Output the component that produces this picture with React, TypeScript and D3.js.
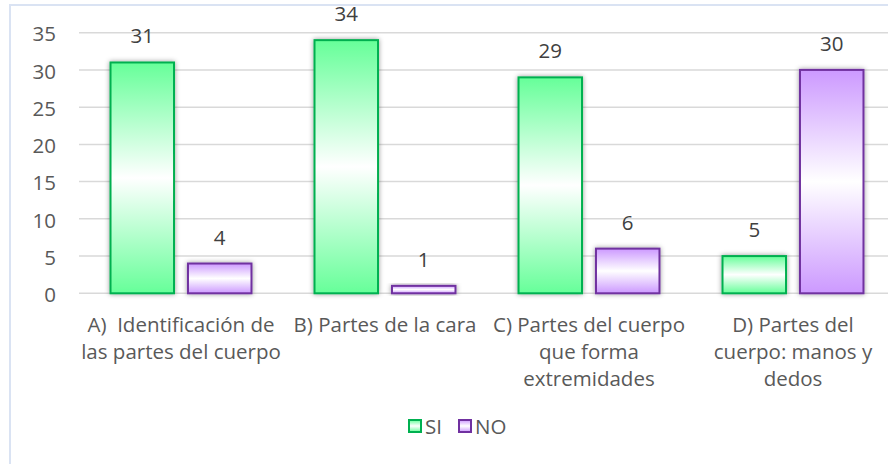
import React from "react";
import * as d3 from "d3";

const categories = [
  ["A)  Identificación de", "las partes del cuerpo"],
  ["B) Partes de la cara"],
  ["C) Partes del cuerpo", "que forma", "extremidades"],
  ["D) Partes del", "cuerpo: manos y", "dedos"],
];
const seriesNames = ["SI", "NO"];
const siValues = [31, 34, 29, 5];
const noValues = [4, 1, 6, 30];
const yTicks = [0, 5, 10, 15, 20, 25, 30, 35];

const W = 888;
const H = 464;
const FONT = "'Open Sans', sans-serif";
const TEXT = "#595959";
const FS = 20.5;

export default function App() {
  const x0 = d3
    .scaleBand<number>()
    .domain(categories.map((_, i) => i))
    .range([79, 895])
    .paddingInner(0.309)
    .paddingOuter(0.1545);
  const x1 = d3
    .scaleBand<string>()
    .domain(seriesNames)
    .range([0, x0.bandwidth()])
    .paddingInner(0.18);
  const y = d3.scaleLinear().domain([0, 35]).range([293.3, 32.7]);

  const series = [
    { name: "SI", values: siValues, grad: "gSI", stroke: "#00B050" },
    { name: "NO", values: noValues, grad: "gNO", stroke: "#7030A0" },
  ];

  return (
    <svg
      width={W}
      height={H}
      style={{ position: "absolute", left: 0, top: 0, background: "#fff" }}
      fontFamily={FONT}
    >
      <defs>
        <linearGradient id="gSI" x1="0" y1="0" x2="0" y2="1">
          <stop offset="0" stopColor="#66FF99" />
          <stop offset="0.5" stopColor="#FFFFFF" />
          <stop offset="1" stopColor="#66FF99" />
        </linearGradient>
        <linearGradient id="gNO" x1="0" y1="0" x2="0" y2="1">
          <stop offset="0" stopColor="#CC99FF" />
          <stop offset="0.5" stopColor="#FFFFFF" />
          <stop offset="1" stopColor="#CC99FF" />
        </linearGradient>
        <filter id="sh" x="-30%" y="-30%" width="160%" height="160%">
          <feDropShadow dx="0" dy="0" stdDeviation="2.5" floodColor="#000" floodOpacity="0.4" />
        </filter>
      </defs>
      <rect x={10} y={5} width={900} height={480} fill="#fff" stroke="#DAE3F3" strokeWidth={2} />

      {yTicks.map((t) => (
        <g key={t}>
          <line x1={79} x2={W} y1={y(t)} y2={y(t)} stroke="#D9D9D9" strokeWidth={1.5} />
          <text x={56} y={y(t) + 1.5} dy="0.35em" textAnchor="end" fontSize={FS} fill={TEXT}>
            {t}
          </text>
        </g>
      ))}

      {series.map((s) =>
        s.values.map((v, i) => {
          const bx = (x0(i) as number) + (x1(s.name) as number);
          const bw = x1.bandwidth();
          return (
            <g key={s.name + i}>
              <rect
                x={bx}
                y={y(v)}
                width={bw}
                height={y(0) - y(v)}
                fill={`url(#${s.grad})`}
                stroke={s.stroke}
                strokeWidth={2}
                filter="url(#sh)"
              />
              <text x={bx + bw / 2} y={y(v) - 19} textAnchor="middle" fontSize={FS} fill="#404040">
                {v}
              </text>
            </g>
          );
        })
      )}

      {categories.map((lines, i) => (
        <text
          key={i}
          x={(x0(i) as number) + x0.bandwidth() / 2}
          y={332}
          textAnchor="middle"
          fontSize={FS}
          fill={TEXT}
          style={{ whiteSpace: "pre" }}
        >
          {lines.map((l, j) => (
            <tspan key={j} x={(x0(i) as number) + x0.bandwidth() / 2} dy={j === 0 ? 0 : 27}>
              {l}
            </tspan>
          ))}
        </text>
      ))}

      <g>
        <rect x={409} y={420} width={12} height={12} fill="url(#gSI)" stroke="#00B050" strokeWidth={2} />
        <text x={425} y={434} fontSize={FS} fill={TEXT}>SI</text>
        <rect x={459} y={420} width={12} height={12} fill="url(#gNO)" stroke="#7030A0" strokeWidth={2} />
        <text x={475} y={434} fontSize={FS} fill={TEXT}>NO</text>
      </g>
    </svg>
  );
}
